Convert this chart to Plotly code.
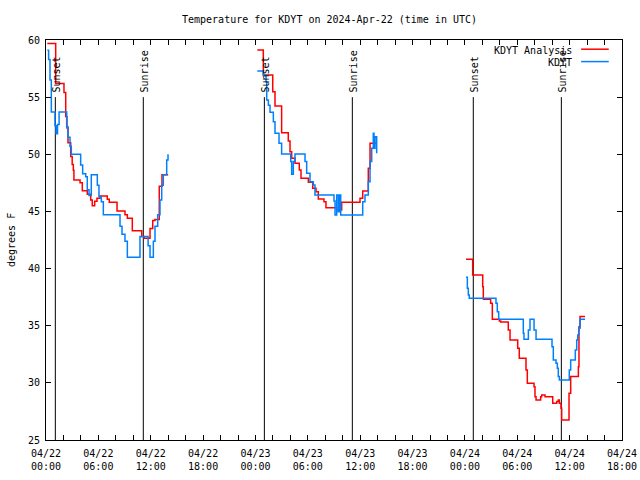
import pandas as pd
import plotly.graph_objects as go

BASE = pd.Timestamp("2024-04-22 00:00")

# ---- data (hours since 2024-04-22 00:00 UTC, degrees F) ----
red1_h = [0.15, 1.11, 2.06, 2.26, 2.4, 2.52, 2.83, 3.0, 3.13, 3.2, 3.9, 4.16, 4.73, 5.12, 5.3, 5.58, 5.84,
          6.19, 7.02, 7.25, 8.14, 9.05, 9.32, 9.89, 10.97, 11.23, 11.92, 12.23, 12.49, 12.98, 13.29, 14.0]
red1_v = [59.7, 56.2, 55.4, 53.3, 52.3, 51.0, 49.8, 49.1, 48.6, 47.75, 47.5, 46.8, 46.5, 46.0, 45.5, 45.9, 46.15,
          46.35, 46.06, 45.8, 45.04, 44.7, 44.4, 43.3, 42.8, 42.65, 43.5, 44.2, 44.3, 47.2, 48.2, 48.2]

red2_h = [24.21, 24.9, 25.98, 26.24, 27.0, 27.76, 27.96, 28.15, 28.53, 29.02, 29.22, 30.06, 30.56, 30.94,
          31.2, 31.85, 32.08, 33.31, 33.88, 35.98, 36.29, 36.93, 37.13, 37.89]
red2_v = [59.13, 56.94, 55.48, 54.23, 51.89, 51.16, 50.23, 49.65, 49.21, 48.63, 47.9, 47.55, 47.03, 46.73,
          46.09, 45.85, 45.33, 45.13, 45.8, 46.15, 46.79, 48.78, 50.96, 50.96]

red3_h = [48.13, 48.89, 50.04, 50.11, 50.95, 51.14, 51.94, 52.1, 52.97, 53.17, 54.05, 54.23, 55.0, 55.15,
          55.92, 56.03, 56.15, 56.68, 56.8, 57.18, 58.06, 58.52, 58.7, 58.82, 59.01, 59.09, 59.93, 60.12,
          61.0, 61.07, 61.19, 61.76]
red3_v = [40.81, 39.44, 38.42, 37.31, 36.96, 35.56, 35.42, 35.33, 34.63, 33.75, 33.03, 32.15, 31.13, 29.96,
          29.67, 28.79, 28.5, 28.79, 28.94, 28.79, 28.21, 28.36, 28.5, 28.21, 27.78, 26.75, 29.1, 30.55,
          31.42, 34.92, 35.8, 35.8]

blue1_h = [0.15, 0.3, 0.46, 0.61, 1.03, 1.15, 1.32, 1.5, 2.37, 2.52, 2.75, 2.9, 3.97, 4.2, 4.55, 4.73, 4.93,
           5.19, 5.88, 6.07, 6.34, 6.57, 8.48, 8.71, 9.05, 9.32, 10.77, 11.7, 11.92, 12.3, 12.49, 12.8, 13.06,
           13.26, 13.44, 13.83, 13.98]
blue1_v = [59.1, 58.3, 56.5, 53.7, 52.5, 51.8, 52.6, 53.7, 52.4, 51.5, 50.7, 50.0, 49.06, 48.3, 48.04, 46.9,
           46.4, 48.2, 47.3, 46.3, 45.85, 44.7, 43.7, 43.0, 42.4, 41.0, 42.8, 42.0, 41.0, 42.4, 43.7, 44.7,
           46.0, 47.3, 48.2, 49.5, 50.0]

blue2_h = [24.21, 24.9, 25.21, 25.29, 25.48, 25.67, 26.05, 26.24, 26.7, 27.0, 28.04, 28.15, 28.34, 28.53,
           29.68, 29.87, 30.25, 30.63, 30.82, 33.0, 33.12, 33.31, 33.5, 33.61, 33.77, 36.29, 36.55, 36.93,
           37.13, 37.32, 37.5, 37.58, 37.7, 37.89]
blue2_v = [57.29, 56.94, 56.35, 54.75, 54.3, 53.67, 52.85, 51.84, 50.96, 50.03, 49.36, 48.25, 49.36, 50.03,
           49.36, 48.34, 47.6, 47.31, 46.44, 45.91, 44.69, 46.44, 44.98, 46.44, 44.69, 45.85, 46.44, 47.6,
           49.36, 50.52, 51.84, 50.52, 51.54, 50.09]

blue3_h = [48.13, 48.28, 48.39, 48.5, 51.56, 51.71, 51.87, 54.69, 54.77, 55.27, 55.46, 55.92, 56.15, 57.98,
           58.13, 58.44, 58.59, 58.7, 58.82, 59.96, 60.12, 60.65, 60.81, 60.93, 61.04, 61.19, 61.76]
blue3_v = [39.24, 38.28, 37.69, 37.4, 36.96, 36.23, 35.56, 34.34, 33.81, 34.63, 35.56, 34.63, 33.81, 33.17,
           32.0, 31.71, 31.27, 30.55, 30.25, 31.13, 32.0, 32.88, 33.75, 34.19, 34.77, 35.56, 35.56]

sunset_h = [1.07, 25.02, 48.96]
sunrise_h = [11.15, 35.1, 59.05]
sun_line_top = 55

x_tick_hours = list(range(0, 67, 2))

FONT = "DejaVu Sans Mono"
RED = "#ff0000"
BLUE = "#0080ff"


def t(h):
    return BASE + pd.Timedelta(hours=h)


def join(segs_h, segs_v):
    xs, ys = [], []
    for hs, vs in zip(segs_h, segs_v):
        xs += [t(h) for h in hs] + [None]
        ys += list(vs) + [None]
    return xs, ys


fig = go.Figure()

# sunset / sunrise markers
for name, hs in (("Sunset", sunset_h), ("Sunrise", sunrise_h)):
    for h in hs:
        fig.add_trace(go.Scatter(x=[t(h), t(h)], y=[25, sun_line_top], mode="lines",
                                 line=dict(color="black", width=1), showlegend=False, hoverinfo="skip"))
        fig.add_annotation(x=t(h), y=sun_line_top, text=name, textangle=-90, showarrow=False,
                           xanchor="center", yanchor="bottom", yshift=3, xshift=1,
                           font=dict(family=FONT, size=10, color="black"))

rx, ry = join([red1_h, red2_h, red3_h], [red1_v, red2_v, red3_v])
bx, by = join([blue1_h, blue2_h, blue3_h], [blue1_v, blue2_v, blue3_v])

fig.add_trace(go.Scatter(x=rx, y=ry, mode="lines", name="KDYT Analysis", line_shape="hv",
                         line=dict(color=RED, width=1.5), showlegend=False))
fig.add_trace(go.Scatter(x=bx, y=by, mode="lines", name="KDYT", line_shape="hv",
                         line=dict(color=BLUE, width=1.5), showlegend=False))

# legend (gnuplot style: text then sample line)
for label, color, ypos in (("KDYT Analysis", RED, 0.975), ("KDYT", BLUE, 0.944)):
    fig.add_annotation(xref="paper", yref="paper", x=0.917, y=ypos, text=label, showarrow=False,
                       xanchor="right", yanchor="middle", font=dict(family=FONT, size=10, color="black"))
    fig.add_shape(type="line", xref="paper", yref="paper", x0=0.929, x1=0.977, y0=ypos + 0.002,
                  y1=ypos + 0.002, line=dict(color=color, width=1.5))

# title as annotation
fig.add_annotation(xref="paper", yref="paper", x=0.493, y=1.05, text="Temperature for KDYT on 2024-Apr-22 (time in UTC)",
                   showarrow=False, xanchor="center", yanchor="middle",
                   font=dict(family=FONT, size=10, color="black"))

tick_vals = [t(h) for h in x_tick_hours]
tick_text = [t(h).strftime("%m/%d<br>%H:%M") if h % 6 == 0 else "" for h in x_tick_hours]

fig.update_layout(
    width=640, height=480,
    margin=dict(l=46, r=18, t=40, b=40),
    paper_bgcolor="white", plot_bgcolor="white",
    font=dict(family=FONT, size=10, color="black"),
    showlegend=False,
)
fig.update_xaxes(range=[t(0), t(66)], tickvals=tick_vals, ticktext=tick_text, ticks="inside", ticklen=5,
                 tickcolor="black", showline=True, linecolor="black", linewidth=1, mirror="allticks",
                 showgrid=False, zeroline=False, tickfont=dict(family=FONT, size=10), automargin=False,
                 ticklabelstandoff=4, ticklabeloverflow="allow")
fig.update_yaxes(range=[25, 60], dtick=5, tick0=25, ticks="inside", ticklen=5, tickcolor="black",
                 showline=True, linecolor="black", linewidth=1, mirror="allticks", showgrid=False,
                 zeroline=False, tickfont=dict(family=FONT, size=10), automargin=False,
                 ticklabelstandoff=3)
fig.add_annotation(xref="paper", yref="paper", x=0, y=0.5, xshift=-35, text="degrees F", textangle=-90,
                   showarrow=False, xanchor="center", yanchor="middle",
                   font=dict(family=FONT, size=10, color="black"))

fig.write_html("out.html", config={"displayModeBar": False},
               post_script="document.body.style.margin='0px';document.body.style.overflow='hidden';")
